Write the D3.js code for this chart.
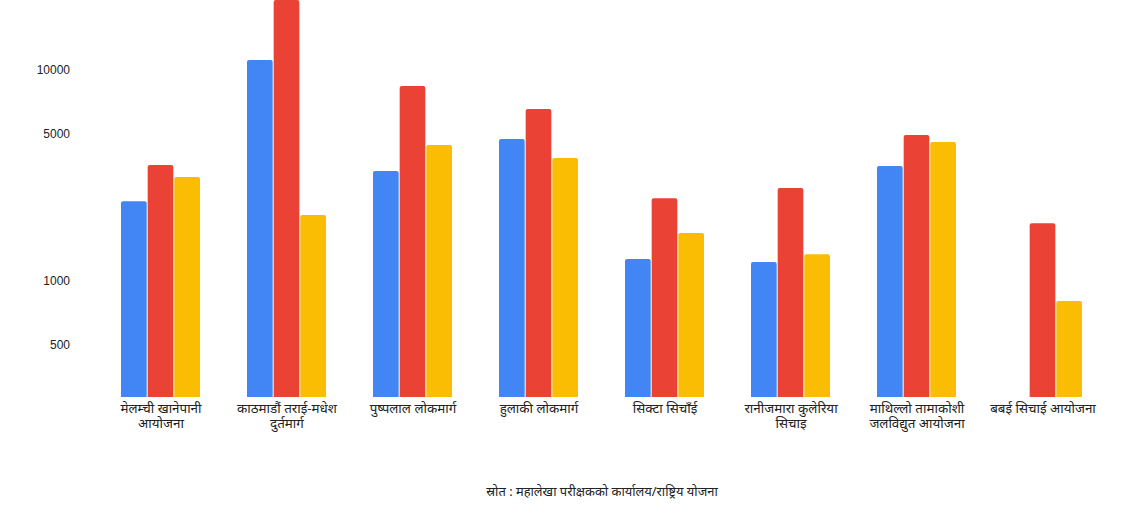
<!DOCTYPE html>
<html>
<head>
<meta charset="utf-8">
<script src="https://cdn.jsdelivr.net/npm/d3@7"></script>
<style>
  html, body { margin: 0; padding: 0; background: #fff; }
  svg { display: block; }
  .tick text { font-family: "Liberation Sans", Arial, sans-serif; }
</style>
</head>
<body>
<svg id="chart" width="1126" height="532"></svg>
<script>
// ---- data ----
const categories = [
  "मेलम्ची खानेपानी\nआयोजना",
  "काठमाडौं तराई-मधेश\nदुर्तमार्ग",
  "पुष्पलाल लोकमार्ग",
  "हुलाकी लोकमार्ग",
  "सिक्टा सिचाँई",
  "रानीजमारा कुलेरिया\nसिचाइ",
  "माथिल्लो तामाकोशी\nजलविद्युत आयोजना",
  "बबई सिचाई आयोजना"
];
const seriesNames = ["शृङ्खला १", "शृङ्खला २", "शृङ्खला ३"];
const seriesBlue   = [2390, 11150, 3320, 4710, 1270, 1230, 3510, null];
const seriesRed    = [3550, 21500, 8400, 6540, 2470, 2760, 4920, 1880];
const seriesYellow = [3110, 2055, 4410, 3830, 1690, 1340, 4560, 804];
const seriesValues = [seriesBlue, seriesRed, seriesYellow];
const seriesColors = ["#4285F4", "#EA4335", "#FBBC04"];
const yTicks = [500, 1000, 5000, 10000];
const sourceText = "स्रोत : महालेखा परीक्षकको कार्यालय/राष्ट्रिय योजना";

// ---- layout ----
const svg = d3.select("#chart");
const plot = { left: 98, right: 1106, top: 0, bottom: 397 };

const x = d3.scaleBand()
  .domain(categories)
  .range([plot.left, plot.right])
  .paddingInner(0.365)
  .paddingOuter(0.1825);

const xs = d3.scaleBand()
  .domain(seriesNames)
  .range([0, x.bandwidth()])
  .padding(0);

const y = d3.scaleLog()
  .domain([281.9, 21470])
  .range([plot.bottom, plot.top]);

// y axis labels (no line)
const yAxis = d3.axisLeft(y).tickValues(yTicks).tickFormat(d3.format("d")).tickSize(0).tickPadding(0);
const gy = svg.append("g").attr("transform", "translate(70,0)").call(yAxis);
gy.select(".domain").remove();
gy.selectAll("text").attr("font-size", 12).attr("fill", "#222").attr("dy", "0.32em");

// bars
const r = 2;
function barPath(x0, w, yTop, yBase) {
  const h = yBase - yTop;
  const rr = Math.min(r, h, w / 2);
  return `M${x0},${yBase}V${yTop + rr}Q${x0},${yTop} ${x0 + rr},${yTop}H${x0 + w - rr}Q${x0 + w},${yTop} ${x0 + w},${yTop + rr}V${yBase}Z`;
}

const groups = svg.append("g").selectAll("g")
  .data(categories)
  .join("g")
  .attr("transform", d => `translate(${x(d)},0)`);

groups.selectAll("path")
  .data((d, i) => seriesNames.map((s, j) => ({ s, j, v: seriesValues[j][i] })).filter(e => e.v != null))
  .join("path")
  .attr("fill", e => seriesColors[e.j])
  .attr("d", e => barPath(xs(e.s), xs.bandwidth() - 1, Math.max(plot.top, y(e.v)), plot.bottom));

// x labels
const labels = svg.append("g").selectAll("text")
  .data(categories)
  .join("text")
  .attr("x", d => x(d) + x.bandwidth() / 2)
  .attr("y", 413)
  .attr("text-anchor", "middle")
  .attr("font-family", "'Noto Sans', 'Noto Sans Devanagari', sans-serif")
  .attr("font-size", 13.4)
  .attr("fill", "#222");
labels.each(function (d) {
  const t = d3.select(this);
  d.split("\n").forEach((line, k) => {
    t.append("tspan").attr("x", x(d) + x.bandwidth() / 2).attr("dy", k === 0 ? 0 : 14.5).text(line);
  });
});

// source
svg.append("text")
  .attr("x", (plot.left + plot.right) / 2)
  .attr("y", 496)
  .attr("text-anchor", "middle")
  .attr("font-family", "'Noto Sans', 'Noto Sans Devanagari', sans-serif")
  .attr("font-size", 12.9)
  .attr("fill", "#222")
  .text(sourceText);
</script>
</body>
</html>
